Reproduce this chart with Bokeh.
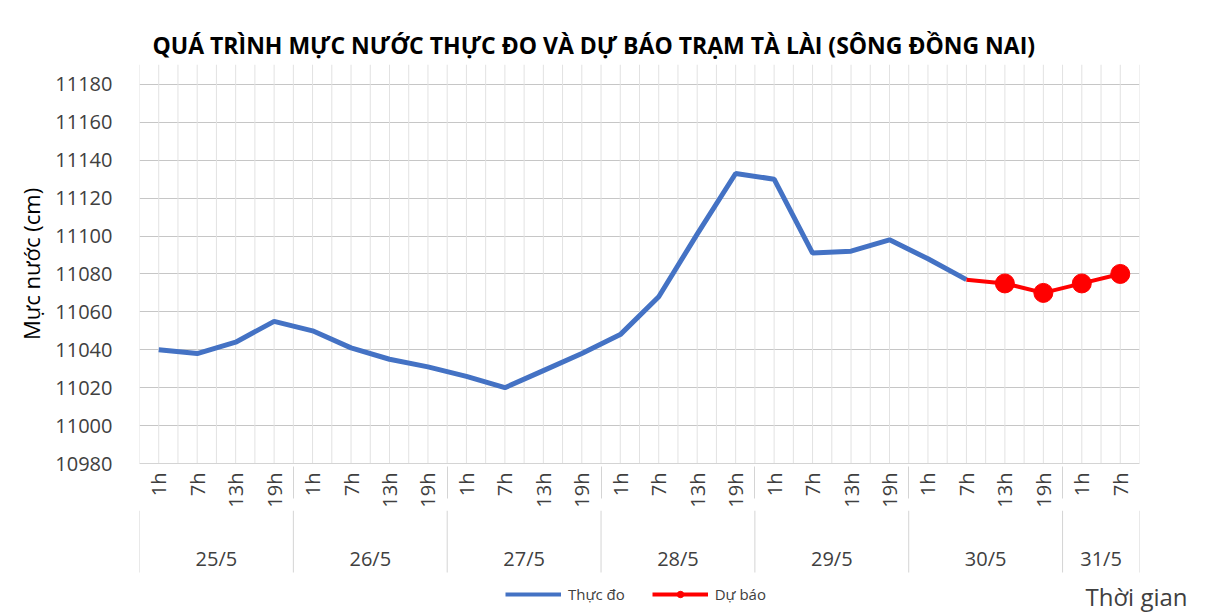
import numpy as np
from bokeh.plotting import figure
from bokeh.layouts import column
from bokeh.models import FactorRange, Range1d, Legend, LegendItem, FixedTicker, Title
from bokeh.core.properties import value
from bokeh.embed import file_html
from bokeh.resources import INLINE

days = ["25/5", "26/5", "27/5", "28/5", "29/5", "30/5", "31/5"]
hours_per_day = [["1h", "7h", "13h", "19h"]] * 6 + [["1h", "7h"]]
factors = [(d, h) for d, hs in zip(days, hours_per_day) for h in hs]

observed = [11040, 11038, 11044, 11055,
            11050, 11041, 11035, 11031,
            11026, 11020, 11029, 11038,
            11048, 11068, 11101, 11133,
            11130, 11091, 11092, 11098,
            11088, 11077]
forecast_x = [("30/5", "7h"), ("30/5", "13h"), ("30/5", "19h"), ("31/5", "1h"), ("31/5", "7h")]
forecast = [11077, 11075, 11070, 11075, 11080]

y_ticks = list(range(10980, 11181, 20))

FONT = "Open Sans"
GREY = "#404040"
BLUE = "#4472C4"
RED = "#FF0000"
GRID_V = "#e2e2e2"
GRID_H = "#c6c6c6"
SEP = "#d4d4d4"

W = 1208
LEFT, RIGHT, TOP = 139, 69, 64
H_A = 510
H_B = 103
FB = 100  # frame height of the lower strip

xr = FactorRange(*factors, range_padding=0, group_padding=0, subgroup_padding=0, factor_padding=0)

p = figure(width=W, height=H_A, output_backend="svg", toolbar_location=None,
           x_range=xr, y_range=Range1d(10980, 11190.5),
           min_border_left=LEFT, min_border_right=RIGHT, min_border_top=TOP,
           min_border_bottom=45)
p.outline_line_color = None
p.border_fill_color = "white"

t = Title(text="QUÁ TRÌNH MỰC NƯỚC THỰC ĐO VÀ DỰ BÁO TRẠM TÀ LÀI (SÔNG ĐỒNG NAI)",
          align="left", offset=13, text_font=FONT, text_font_size="23px",
          text_font_style="bold", text_color="#000000", standoff=8)
p.add_layout(t, "above")

n = len(factors)
vx = list(np.arange(0, n + 0.01, 0.5))
p.segment(x0=vx, x1=vx, y0=10980, y1=11190.5, line_color=GRID_V, line_width=1)
p.xgrid.grid_line_color = None
p.ygrid.ticker = FixedTicker(ticks=y_ticks)
p.ygrid.grid_line_color = GRID_H

p.yaxis.ticker = FixedTicker(ticks=y_ticks)
p.yaxis.axis_line_color = None
p.yaxis.major_tick_line_color = None
p.yaxis.minor_tick_line_color = None
p.yaxis.major_label_text_font = FONT
p.yaxis.major_label_text_font_size = "20px"
p.yaxis.major_label_text_color = GREY
p.yaxis.major_label_standoff = 21
p.yaxis.axis_label = "Mực nước (cm)"
p.yaxis.axis_label_text_font = FONT
p.yaxis.axis_label_text_font_size = "22px"
p.yaxis.axis_label_text_font_style = "normal"
p.yaxis.axis_label_text_color = "#000000"
p.yaxis.axis_label_standoff = 6

xa = p.xaxis[0]
xa.axis_line_color = SEP
xa.major_tick_line_color = None
xa.minor_tick_line_color = None
xa.major_label_orientation = np.pi / 2
xa.major_label_text_font = FONT
xa.major_label_text_font_size = "20px"
xa.major_label_text_color = GREY
xa.major_label_standoff = 3
xa.group_text_font_size = "1px"
xa.group_text_color = None
xa.separator_line_color = SEP
xa.separator_line_width = 1

p.line(x=factors[:len(observed)], y=observed, line_color=BLUE, line_width=5)
p.line(x=forecast_x, y=forecast, line_color=RED, line_width=4)
p.scatter(x=forecast_x[1:], y=forecast[1:], size=19, fill_color=RED, line_color=RED)

# ---- lower strip: day labels, separators, legend, axis title
b = figure(width=W, height=H_B, output_backend="svg", toolbar_location=None,
           x_range=xr, y_range=Range1d(FB, 0),
           x_axis_location=None, y_axis_location=None,
           min_border_left=LEFT, min_border_right=RIGHT, min_border_top=0,
           min_border_bottom=H_B - FB)
b.outline_line_color = None
b.xgrid.grid_line_color = None
b.ygrid.grid_line_color = None

bounds = np.cumsum([0] + [len(h) for h in hours_per_day])
centers = (bounds[:-1] + bounds[1:]) / 2
b.segment(x0=list(bounds), x1=list(bounds), y0=0, y1=62, line_color=SEP, line_width=1)
b.text(x=list(centers), y=48, text=days, text_font=value(FONT), text_font_size="20px",
       text_color=GREY, text_align="center", text_baseline="middle")

# legend sample renderers: the real series, drawn outside this strip's visible range
lb = b.line(x=factors[:len(observed)], y=observed, line_color=BLUE, line_width=4)
lr = b.line(x=forecast_x, y=forecast, line_color=RED, line_width=4)
lm = b.scatter(x=forecast_x, y=forecast, size=7, fill_color=RED, line_color=RED)
legend = Legend(items=[LegendItem(label="Thực đo", renderers=[lb]),
                       LegendItem(label="Dự báo", renderers=[lr, lm])],
                orientation="horizontal", location=(366, 6),
                label_text_font=FONT, label_text_font_size="15px", label_text_color=GREY,
                glyph_width=56, glyph_height=16, label_standoff=7, spacing=27,
                border_line_color=None, background_fill_alpha=0, padding=0, margin=0)
b.add_layout(legend, "center")

tg = Title(text="Thời gian", align="left", offset=946, vertical_align="top", standoff=-62,
           text_font=FONT, text_font_size="24px", text_font_style="normal", text_color=GREY)
b.add_layout(tg, "below")

open("out.html", "w").write(file_html(column(p, b, spacing=0), INLINE))
